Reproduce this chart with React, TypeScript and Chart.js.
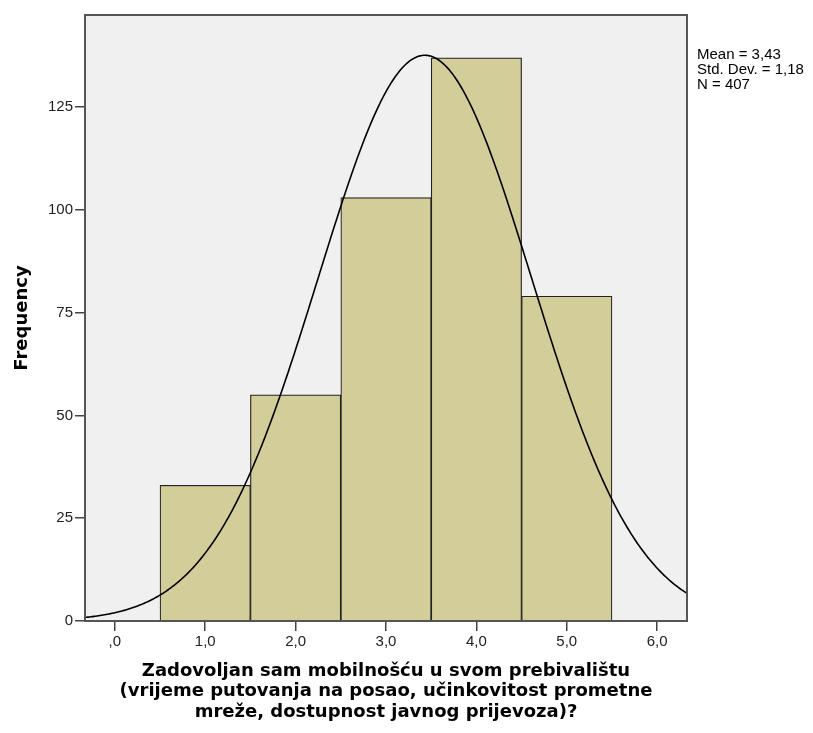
import React, { useEffect, useRef } from "react";
import { Chart, registerables } from "chart.js";

Chart.register(...registerables);

// ---- data ----
const binCenters = [1, 2, 3, 4, 5];
const frequencies = [33, 55, 103, 137, 79];
const xTickValues = [0, 1, 2, 3, 4, 5, 6];
const xTickLabels = [",0", "1,0", "2,0", "3,0", "4,0", "5,0", "6,0"];
const yTickValues = [0, 25, 50, 75, 100, 125];
const yTickLabels = ["0", "25", "50", "75", "100", "125"];
const MEAN = 3.43;
const STD_DEV = 1.18;
const N = 407;
const statsLines = ["Mean = 3,43", "Std. Dev. = 1,18", "N = 407"];
const yAxisTitle = "Frequency";
const xAxisTitleLines = [
  "Zadovoljan sam mobilnošću u svom prebivalištu",
  "(vrijeme putovanja na posao, učinkovitost prometne",
  "mreže, dostupnost javnog prijevoza)?",
];

const X_MIN = -0.33;
const X_MAX = 6.33;
const Y_MAX = 147.4;

// normal curve defined by the reported mean / std. dev. / N (bin width 1)
function normalCurve() {
  const pts: { x: number; y: number }[] = [];
  const steps = 400;
  for (let i = 0; i <= steps; i++) {
    const x = X_MIN + ((X_MAX - X_MIN) * i) / steps;
    const z = (x - MEAN) / STD_DEV;
    const y = (N * Math.exp(-0.5 * z * z)) / (STD_DEV * Math.sqrt(2 * Math.PI));
    pts.push({ x, y });
  }
  return pts;
}

const decorPlugin = {
  id: "decor",
  beforeDraw(chart: any) {
    const { ctx, chartArea: a } = chart;
    ctx.save();
    ctx.fillStyle = "#ffffff";
    ctx.fillRect(0, 0, chart.width, chart.height);
    ctx.fillStyle = "#f0f0f0";
    ctx.fillRect(a.left, a.top, a.right - a.left, a.bottom - a.top);
    ctx.restore();
  },
  afterDraw(chart: any) {
    const { ctx, chartArea: a } = chart;
    ctx.save();
    // frame
    ctx.strokeStyle = "#555555";
    ctx.lineWidth = 2;
    ctx.strokeRect(a.left, a.top, a.right - a.left, a.bottom - a.top);

    // y title
    ctx.fillStyle = "#000000";
    ctx.font = "bold 18px 'DejaVu Sans'";
    ctx.textAlign = "center";
    ctx.textBaseline = "middle";
    ctx.save();
    ctx.translate(22, (a.top + a.bottom) / 2);
    ctx.rotate(-Math.PI / 2);
    ctx.fillText(yAxisTitle, 0, 0);
    ctx.restore();

    // x title
    const cx = (a.left + a.right) / 2;
    xAxisTitleLines.forEach((line, i) => {
      ctx.fillText(line, cx, 671 + i * 20.5);
    });

    // stats
    ctx.font = "15px 'Liberation Sans'";
    ctx.textAlign = "left";
    statsLines.forEach((line, i) => {
      ctx.fillText(line, 697, 55 + i * 15);
    });
    ctx.restore();
  },
};

export default function App() {
  const ref = useRef<HTMLCanvasElement | null>(null);

  useEffect(() => {
    if (!ref.current) return;
    const chart = new Chart(ref.current, {
      type: "bar",
      data: {
        datasets: [
          {
            type: "line",
            data: normalCurve(),
            borderColor: "#000000",
            borderWidth: 1.6,
            pointRadius: 0,
            fill: false,
            tension: 0,
            order: 0,
          } as any,
          {
            type: "bar",
            data: binCenters.map((x, i) => ({ x, y: frequencies[i] })),
            backgroundColor: "#d3ce99",
            borderColor: "#222222",
            borderWidth: 1.2,
            barPercentage: 1,
            categoryPercentage: 1,
            order: 1,
          } as any,
        ],
      },
      options: {
        animation: false,
        responsive: false,
        maintainAspectRatio: false,
        layout: { padding: { top: 15, right: 126, left: 0, bottom: 0 } },
        plugins: {
          legend: { display: false },
          tooltip: { enabled: false },
          title: { display: false },
        },
        scales: {
          x: {
            type: "linear",
            min: X_MIN,
            max: X_MAX,
            offset: false,
            afterBuildTicks: (scale: any) => {
              scale.ticks = xTickValues.map((v) => ({ value: v }));
            },
            afterFit: (scale: any) => {
              scale.height = 112;
            },
            ticks: {
              autoSkip: false,
              maxRotation: 0,
              padding: 2,
              color: "#222222",
              font: { family: "'Liberation Sans'", size: 15 },
              callback: (v: any) => {
                const i = xTickValues.indexOf(Number(v));
                return i >= 0 ? xTickLabels[i] : "";
              },
            },
            grid: {
              offset: false,
              drawOnChartArea: false,
              drawTicks: true,
              tickLength: 10,
              color: "#444444",
              lineWidth: 1.5,
            },
            border: { display: false },
          },
          y: {
            type: "linear",
            min: 0,
            max: Y_MAX,
            afterBuildTicks: (scale: any) => {
              scale.ticks = yTickValues.map((v) => ({ value: v }));
            },
            afterFit: (scale: any) => {
              scale.width = 85;
            },
            ticks: {
              autoSkip: false,
              padding: 2,
              color: "#222222",
              font: { family: "'Liberation Sans'", size: 15 },
              callback: (v: any) => {
                const i = yTickValues.indexOf(Number(v));
                return i >= 0 ? yTickLabels[i] : "";
              },
            },
            grid: {
              drawOnChartArea: false,
              drawTicks: true,
              tickLength: 10,
              color: "#444444",
              lineWidth: 1.5,
            },
            border: { display: false },
          },
        },
      },
      plugins: [decorPlugin],
    });
    return () => chart.destroy();
  }, []);

  return (
    <div style={{ position: "absolute", left: 0, top: 0, width: 813, height: 733 }}>
      <canvas ref={ref} width={813} height={733} style={{ width: 813, height: 733 }} />
    </div>
  );
}
